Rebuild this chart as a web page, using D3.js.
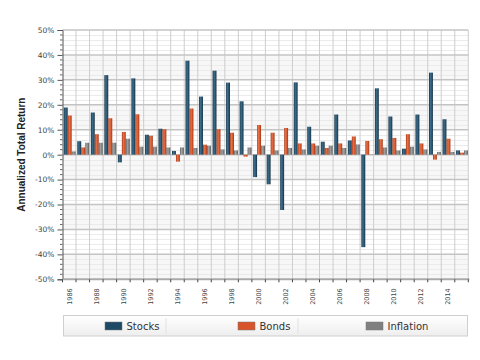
<!DOCTYPE html>
<html><head><meta charset="utf-8">
<script src="https://cdn.jsdelivr.net/npm/d3@7"></script>
<style>html,body{margin:0;padding:0;background:#fff;}svg{display:block;}</style>
</head><body>
<svg id="chart" width="480" height="360"></svg>
<script>
const years = d3.range(1986, 2016);
const seriesNames = ["Stocks", "Bonds", "Inflation"];
const stocks = [18.9, 5.4, 16.9, 31.9, -3.1, 30.6, 8.0, 10.4, 1.5, 37.7, 23.3, 33.7, 28.9, 21.4, -9.0, -11.9, -22.2, 29.0, 11.2, 5.2, 16.1, 5.7, -37.1, 26.6, 15.3, 2.4, 16.1, 32.9, 14.2, 1.7];
const bonds = [15.7, 2.9, 8.2, 14.6, 9.1, 16.2, 7.6, 10.2, -2.8, 18.5, 4.0, 10.2, 8.8, -0.8, 11.9, 8.8, 10.7, 4.5, 4.5, 2.7, 4.5, 7.3, 5.5, 6.2, 6.7, 8.2, 4.5, -2.0, 6.4, 0.8];
const inflation = [1.3, 4.8, 4.8, 4.8, 6.4, 3.2, 3.2, 2.9, 2.9, 2.7, 3.6, 2.1, 1.7, 2.9, 3.6, 1.7, 2.7, 2.1, 3.6, 3.6, 2.7, 4.1, 0.1, 2.9, 1.7, 3.2, 2.1, 1.1, 1.1, 1.7];
const yTicks = [-50, -40, -30, -20, -10, 0, 10, 20, 30, 40, 50];
const yTitle = "Annualized Total Return";

const seriesData = {Stocks: stocks, Bonds: bonds, Inflation: inflation};
const colors = {
  Stocks: ["#143247", "#3d6d8a", "#2a5672", "#122c3e"],
  Bonds: ["#a23715", "#e8714a", "#d4562c", "#9a3312"],
  Inflation: ["#5e5e5e", "#a4a4a4", "#858585", "#555555"]
};
const legendColors = {Stocks: "#1e4a66", Bonds: "#d9532a", Inflation: "#808080"};

const svg = d3.select("#chart");
const m = {l: 62.5, r: 468.3, t: 30, b: 279.3};

const x = d3.scaleBand().domain(years).range([m.l, m.r]).padding(0);
const xi = d3.scaleBand().domain(seriesNames).range([1.2, x.bandwidth() - 0.3]).padding(0.02);
const y = d3.scaleLinear().domain([-50, 50]).range([m.b, m.t]);

const defs = svg.append("defs");
seriesNames.forEach(s => {
  const g = defs.append("linearGradient").attr("id", "g-" + s).attr("x1", 0).attr("x2", 1).attr("y1", 0).attr("y2", 0);
  [[0, 0], [0.35, 1], [0.7, 2], [1, 3]].forEach(([o, i]) => g.append("stop").attr("offset", o).attr("stop-color", colors[s][i]));
});
const lg = defs.append("linearGradient").attr("id", "legbg").attr("x1", 0).attr("x2", 0).attr("y1", 0).attr("y2", 1);
lg.append("stop").attr("offset", 0).attr("stop-color", "#ffffff");
lg.append("stop").attr("offset", 1).attr("stop-color", "#eeeeee");

// background bands
const bandTicks = d3.range(-50, 50, 10);
svg.append("g").selectAll("rect").data(bandTicks.filter((d, i) => i % 2 === 0)).join("rect")
  .attr("x", m.l).attr("width", m.r - m.l)
  .attr("y", d => y(d + 10)).attr("height", d => y(d) - y(d + 10))
  .attr("fill", "#f7f7f7");

// minor horizontal grid
const minor = d3.range(-50, 51, 2).filter(v => v % 10 !== 0);
svg.append("g").selectAll("line").data(minor).join("line")
  .attr("x1", m.l).attr("x2", m.r)
  .attr("y1", d => Math.round(y(d)) + 0.5).attr("y2", d => Math.round(y(d)) + 0.5)
  .attr("stroke", "#ebebeb").attr("stroke-width", 1);

// vertical grid
svg.append("g").selectAll("line").data(years.slice(1).concat(["end"])).join("line")
  .attr("x1", d => d === "end" ? m.r : x(d)).attr("x2", d => d === "end" ? m.r : x(d))
  .attr("y1", m.t).attr("y2", m.b)
  .attr("stroke", "#cdcdcd").attr("stroke-width", 1);

// major horizontal grid
svg.append("g").selectAll("line").data(yTicks.filter(d => d !== -50)).join("line")
  .attr("x1", m.l).attr("x2", m.r)
  .attr("y1", d => y(d)).attr("y2", d => y(d))
  .attr("stroke", "#c4c4c4").attr("stroke-width", 1.5);

// bars
const groups = svg.append("g").selectAll("g").data(years).join("g")
  .attr("transform", d => `translate(${x(d)},0)`);
groups.selectAll("rect").data((yr, i) => seriesNames.map(s => ({s, v: seriesData[s][i]}))).join("rect")
  .attr("x", d => xi(d.s)).attr("width", xi.bandwidth())
  .attr("y", d => y(Math.max(0, d.v))).attr("height", d => Math.abs(y(d.v) - y(0)))
  .attr("fill", d => `url(#g-${d.s})`);

// y axis
const yAxis = d3.axisLeft(y).tickValues(yTicks).tickFormat(d => d + "%").tickSize(5).tickPadding(3);
const ya = svg.append("g").attr("transform", `translate(${m.l},0)`).call(yAxis);
ya.select(".domain").attr("stroke", "#555");
ya.selectAll(".tick line").attr("stroke", "#555");
ya.selectAll("text").attr("font-family", "DejaVu Sans").attr("font-size", 7.5).attr("fill", "#444");
// minor y ticks
svg.append("g").selectAll("line").data(minor).join("line")
  .attr("x1", m.l - 2.5).attr("x2", m.l)
  .attr("y1", d => y(d)).attr("y2", d => y(d))
  .attr("stroke", "#666").attr("stroke-width", 1);

// x axis
svg.append("line").attr("x1", m.l).attr("x2", m.r + 1).attr("y1", m.b).attr("y2", m.b)
  .attr("stroke", "#aaa").attr("stroke-width", 2);
svg.append("g").selectAll("line").data(years.concat(["end"])).join("line")
  .attr("x1", d => d === "end" ? m.r : x(d)).attr("x2", d => d === "end" ? m.r : x(d))
  .attr("y1", m.b).attr("y2", m.b + 3)
  .attr("stroke", "#444").attr("stroke-width", 1);
svg.append("g").selectAll("text").data(years.filter(d => d % 2 === 0)).join("text")
  .attr("transform", d => `translate(${x(d) + x.bandwidth() / 2 + 2.3},${m.b + 9}) rotate(-90)`)
  .attr("text-anchor", "end")
  .attr("font-family", "DejaVu Sans").attr("font-size", 6.5).attr("fill", "#444")
  .text(d => d);

// y title
svg.append("text").attr("transform", `translate(25,${(m.t + m.b) / 2}) rotate(-90)`)
  .attr("text-anchor", "middle")
  .attr("font-family", "Liberation Sans").attr("font-weight", "bold").attr("font-size", 10)
  .attr("fill", "#222").text(yTitle);

// legend
const leg = svg.append("g");
leg.append("rect").attr("x", 63.5).attr("y", 315.5).attr("width", 404).attr("height", 20.5)
  .attr("fill", "url(#legbg)").attr("stroke", "#cfcfcf");
[166, 298].forEach(sx => leg.append("line").attr("x1", sx).attr("x2", sx).attr("y1", 318).attr("y2", 334).attr("stroke", "#e2e2e2"));
const legX = {Stocks: 105, Bonds: 238, Inflation: 366};
const li = leg.selectAll("g.li").data(seriesNames).join("g").attr("class", "li")
  .attr("transform", d => `translate(${legX[d]},322)`);
li.append("rect").attr("width", 17).attr("height", 8).attr("fill", d => legendColors[d])
  .attr("stroke", "#777").attr("stroke-width", 0.5);
li.append("text").attr("x", 21.5).attr("y", 8.3)
  .attr("font-family", "DejaVu Sans").attr("font-size", 10).attr("fill", "#333")
  .text(d => d);
</script>
</body></html>
